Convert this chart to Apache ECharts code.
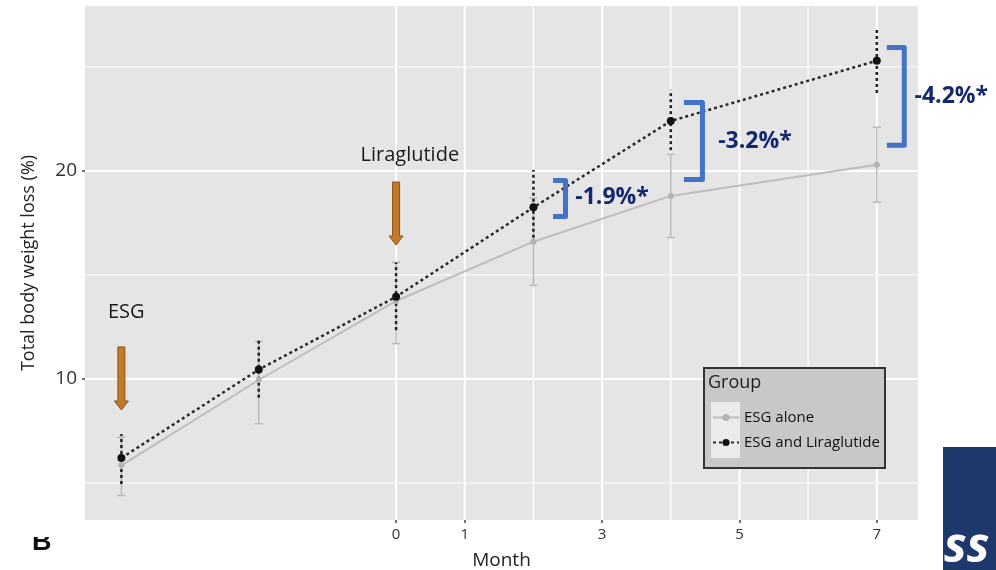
<!DOCTYPE html>
<html>
<head><meta charset="utf-8">
<script src="https://cdn.jsdelivr.net/npm/echarts@6/dist/echarts.min.js"></script>
</head>
<body style="margin:0;background:#fff;">
<div id="main" style="width:996px;height:570px;"></div>
<script type="text/javascript">
// months after the procedure (ESG at -4, liraglutide started at 0)
var months = [-4, -2, 0, 2, 4, 7]
var esgAlone = [5.85, 9.95, 13.75, 16.6, 18.8, 20.3]
var esgAloneLow = [4.4, 7.85, 11.7, 14.5, 16.8, 18.5]
var esgAloneHigh = [7.2, 11.8, 15.6, 18.7, 20.8, 22.1]
var esgLira = [6.2, 10.45, 13.95, 18.25, 22.4, 25.3]
var esgLiraLow = [4.95, 9.1, 12.35, 16.5, 21.0, 23.75]
var esgLiraHigh = [7.35, 11.9, 15.6, 20.05, 23.9, 26.8]
var xTicks = [0, 1, 3, 5, 7]
var yTicks = [10, 20]
var vGridMajor = [0, 1, 3, 5, 7]
var vGridMinor = [2, 4, 6]
var hGridMajor = [10, 20]
var hGridMinor = [5, 15, 25]
// difference brackets: [x start, x end, y top, y bottom]
var brackets = [[2.285, 2.467, 19.54, 17.81], [4.192, 4.461, 23.29, 19.59], [7.146, 7.40, 25.94, 21.23]]
// difference labels: [x, y, text]
var diffLabels = [[2.61, 18.75, '-1.9%*'], [4.69, 21.44, '-3.2%*'], [7.55, 23.56, '-4.2%*']]
// arrows: [x, y top, y tip]
var arrows = [[-4, 11.54, 8.51], [0, 19.47, 16.44]]
var arrowLabels = [[-3.93, 13.2, 'ESG'], [0.2, 20.75, 'Liraglutide']]

var xMin = -4.53, xMax = 7.6, yMin = 3.22, yMax = 27.93
var font = '"Open Sans", "Noto Sans", sans-serif'

function zip(xs, ys) {
    var out = []
    for (var i = 0; i < xs.length; i++) out.push([xs[i], ys[i]])
    return out
}
function bars(lo, hi) {
    var out = []
    for (var i = 0; i < months.length; i++) out.push([months[i], lo[i], hi[i]])
    return out
}

var myChart = echarts.init(document.getElementById('main'))

function gridSeries(vals, vertical, width) {
    return {
        type: 'custom', silent: true, z: 0,
        data: vals,
        renderItem: function (params, api) {
            var v = api.value(0)
            var a = vertical ? api.coord([v, yMin]) : api.coord([xMin, v])
            var b = vertical ? api.coord([v, yMax]) : api.coord([xMax, v])
            return { type: 'line', shape: { x1: a[0], y1: a[1], x2: b[0], y2: b[1] },
                style: { stroke: '#ffffff', lineWidth: width } }
        }
    }
}

function errorSeries(data, color, width, dash, cap) {
    return {
        type: 'custom', silent: true, z: 3,
        data: data,
        renderItem: function (params, api) {
            var lo = api.coord([api.value(0), api.value(1)])
            var hi = api.coord([api.value(0), api.value(2)])
            var st = { stroke: color, lineWidth: width, lineDash: dash }
            var kids = [{ type: 'line', shape: { x1: lo[0], y1: lo[1], x2: hi[0], y2: hi[1] }, style: st }]
            if (cap) {
                kids.push({ type: 'line', shape: { x1: lo[0] - cap, y1: lo[1], x2: lo[0] + cap, y2: lo[1] }, style: { stroke: color, lineWidth: width } })
                kids.push({ type: 'line', shape: { x1: hi[0] - cap, y1: hi[1], x2: hi[0] + cap, y2: hi[1] }, style: { stroke: color, lineWidth: width } })
            }
            return { type: 'group', children: kids }
        }
    }
}

var option = {
    animation: false,
    backgroundColor: '#fff',
    textStyle: { fontFamily: font },
    grid: { left: 85, right: 78, top: 6, bottom: 50, outerBoundsMode: 'none', containLabel: false,
        show: true, backgroundColor: '#e5e5e5', borderWidth: 0 },
    xAxis: {
        type: 'value', min: xMin, max: xMax,
        name: 'Month', nameLocation: 'middle', nameGap: 31,
        nameTextStyle: { fontSize: 19, color: '#222', fontFamily: font },
        axisLine: { show: false, onZero: false },
        axisTick: { show: true, customValues: xTicks, length: 3, lineStyle: { color: '#444', width: 1.5 } },
        axisLabel: { customValues: xTicks, color: '#333', fontSize: 15, margin: 7, fontFamily: font },
        splitLine: { show: false }
    },
    yAxis: {
        type: 'value', min: yMin, max: yMax,
        name: 'Total body weight loss (%)', nameLocation: 'middle', nameGap: 47,
        nameTextStyle: { fontSize: 18, color: '#222', fontFamily: font },
        axisLine: { show: false, onZero: false },
        axisTick: { show: true, customValues: yTicks, length: 3, lineStyle: { color: '#444', width: 1.5 } },
        axisLabel: { customValues: yTicks, color: '#333', fontSize: 19, margin: 8, fontFamily: font },
        splitLine: { show: false }
    },
    legend: {
        orient: 'vertical', left: 712, top: 410, z: 20, padding: 0,
        itemWidth: 26, itemHeight: 9, itemGap: 10,
        textStyle: { fontSize: 15, color: '#111', fontFamily: font },
        data: ['ESG alone', 'ESG and Liraglutide']
    },
    graphic: [
        { type: 'rect', left: 703, top: 367, shape: { width: 181, height: 100 }, style: { fill: '#c8c8c8', stroke: '#333', lineWidth: 2 }, z: 1 },
        { type: 'rect', left: 711, top: 402, shape: { width: 29, height: 56 }, style: { fill: '#ebebeb' }, z: 2 },
        { type: 'text', left: 708, top: 374, style: { text: 'Group', fontSize: 18, fill: '#222', fontFamily: font }, z: 2 },
        { type: 'rect', left: 943, top: 447, shape: { width: 60, height: 130 }, style: { fill: '#1f386c' }, z: 1 },
        { type: 'text', left: 944, top: 524, style: { text: 'ss', fontSize: 48, fontStyle: 'italic', fontWeight: 'bold', fill: '#fff', fontFamily: font }, z: 2 },
        { type: 'text', left: 32, top: 529, style: { text: 'B', fontSize: 27, fontWeight: 'bold', fill: '#111', fontFamily: '"Liberation Sans", sans-serif' }, z: 1 },
        { type: 'rect', left: 25, top: 522, shape: { width: 40, height: 15 }, style: { fill: '#fff' }, z: 2 }
    ],
    series: [
        gridSeries(hGridMinor, false, 1),
        gridSeries(hGridMajor, false, 2),
        gridSeries(vGridMinor, true, 1.2),
        gridSeries(vGridMajor, true, 2),
        errorSeries(bars(esgAloneLow, esgAloneHigh), '#b9b9b9', 1.5, null, 4),
        {
            name: 'ESG alone', type: 'line', z: 4,
            data: zip(months, esgAlone),
            symbol: 'circle', symbolSize: 6,
            itemStyle: { color: '#b3b3b3' },
            lineStyle: { color: '#bdbdbd', width: 2 }
        },
        errorSeries(bars(esgLiraLow, esgLiraHigh), '#222', 2.5, [3, 3], 0),
        {
            name: 'ESG and Liraglutide', type: 'line', z: 5,
            data: zip(months, esgLira),
            symbol: 'circle', symbolSize: 8,
            itemStyle: { color: '#111' },
            lineStyle: { color: '#2a2a2a', width: 2.5, type: [3, 3] }
        },
        {
            type: 'custom', silent: true, z: 6, clip: false,
            data: brackets,
            renderItem: function (params, api) {
                var tl = api.coord([api.value(0), api.value(2)])
                var tr = api.coord([api.value(1), api.value(2)])
                var br = api.coord([api.value(1), api.value(3)])
                var bl = api.coord([api.value(0), api.value(3)])
                return { type: 'polyline', shape: { points: [tl, tr, br, bl] },
                    style: { stroke: '#4472c4', lineWidth: 5, fill: null, lineJoin: 'round' } }
            }
        },
        {
            type: 'custom', silent: true, z: 6, clip: false,
            data: diffLabels,
            renderItem: function (params, api) {
                var p = api.coord([api.value(0), api.value(1)])
                return { type: 'text', x: p[0], y: p[1],
                    style: { text: diffLabels[params.dataIndex][2], fontSize: 23, fontWeight: 'bold', fill: '#14286e',
                        fontFamily: font, textAlign: 'left', textVerticalAlign: 'middle' } }
            }
        },
        {
            type: 'custom', silent: true, z: 6,
            data: arrows,
            renderItem: function (params, api) {
                var t = api.coord([api.value(0), api.value(1)])
                var b = api.coord([api.value(0), api.value(2)])
                var c = t[0], h = 9
                return { type: 'polygon',
                    shape: { points: [[c - 3.5, t[1]], [c + 3.5, t[1]], [c + 3.5, b[1] - h], [c + 7, b[1] - h], [c, b[1]], [c - 7, b[1] - h], [c - 3.5, b[1] - h]] },
                    style: { fill: '#c27a28', stroke: '#8c5417', lineWidth: 1 } }
            }
        },
        {
            type: 'custom', silent: true, z: 6,
            data: arrowLabels,
            renderItem: function (params, api) {
                var p = api.coord([api.value(0), api.value(1)])
                return { type: 'text', x: p[0], y: p[1],
                    style: { text: arrowLabels[params.dataIndex][2], fontSize: 20, fill: '#1a1a1a',
                        fontFamily: font, textAlign: 'center', textVerticalAlign: 'middle' } }
            }
        }
    ]
}
myChart.setOption(option)
</script>
</body>
</html>
